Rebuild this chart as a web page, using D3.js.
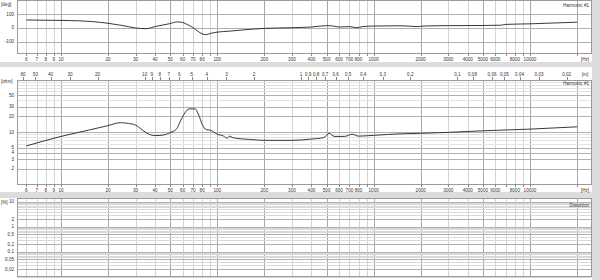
<!DOCTYPE html>
<html>
<head>
<meta charset="utf-8">
<script src="https://cdn.jsdelivr.net/npm/d3@7"></script>
<style>
  body { margin: 0; background: #dcdcdc; }
  svg { display: block; font-family: "Liberation Sans", Arial, sans-serif; }
</style>
</head>
<body>
<svg id="chart" width="600" height="280"></svg>
<script>
// phase of harmonic #1 (deg)
const phaseFreq = [6, 8, 10, 13, 16, 20, 25, 30, 35, 40, 45, 50, 55, 60, 65, 70, 75, 80, 85, 90, 100, 120, 150, 200, 300, 400, 500, 550, 600, 700, 780, 850, 1000, 1500, 1900, 2100, 3000, 5000, 6500, 7000, 10000, 15000, 20000];
const phaseDeg  = [56, 54, 53, 50, 44, 32, 15, -2, -7, 8, 20, 30, 42, 38, 20, 0, -25, -45, -50, -42, -32, -25, -15, -5, 0, 5, 15, 12, 5, 8, 0, 8, 12, 14, 8, 12, 15, 16, 18, 24, 28, 35, 40];

// impedance of harmonic #1 (ohm)
const impFreq = [6, 10, 15, 20, 24, 27, 30, 33, 36, 40, 45, 50, 55, 58, 62, 66, 72, 76, 80, 85, 90, 100, 110, 115, 120, 125, 140, 160, 200, 300, 400, 480, 520, 560, 650, 730, 800, 1000, 1500, 2000, 3000, 5000, 10000, 20000];
const impOhm  = [5.4, 8.2, 10.8, 13.2, 15, 14.5, 13.5, 11, 9.2, 8.5, 8.7, 9.7, 11.5, 16, 23, 27.5, 27.5, 21, 14, 11, 10.8, 9, 8.3, 7.6, 8.3, 7.8, 7.4, 7.2, 6.9, 6.9, 7.3, 7.8, 9.4, 8.2, 8.2, 9, 8.3, 8.6, 9.2, 9.4, 9.8, 10.5, 11.3, 12.5];

// axis labels
const freqLabels = [6, 7, 8, 9, 10, 20, 30, 40, 50, 60, 70, 80, 100, 200, 300, 400, 500, 600, 700, 800, 1000, 2000, 3000, 4000, 5000, 6000, 8000, 10000];
const waveLabels = [60, 50, 40, 30, 20, 10, 9, 8, 7, 6, 5, 4, 3, 2, 1, 0.9, 0.8, 0.7, 0.6, 0.5, 0.4, 0.3, 0.2, 0.1, 0.08, 0.06, 0.05, 0.04, 0.03, 0.02];
const phaseLabels = [100, 0, -100];
const ohmLabels = [50, 30, 20, 10, 5, 4, 3, 2];
const pctLabels = [10, 2, 1, 0.5, 0.2, 0.1, 0.05, 0.02];

const svg = d3.select('#chart');
const fmt = v => String(v).replace('.', ',');
const left = 17, right = 591;

// grid frequencies 6 Hz .. 20 kHz
const gridFreq = [];
[1, 10, 100, 1000, 10000].forEach(dec => {
    for (let m = 1; m <= 9; m++) {
        const f = m * dec;
        if (f >= 6 && f <= 20000) gridFreq.push(f);
    }
});
const isMajor = f => {
    const m = f / Math.pow(10, Math.floor(Math.log10(f) + 1e-9));
    return Math.abs(m - 1) < 1e-6 || Math.abs(m - 2) < 1e-6 || Math.abs(m - 5) < 1e-6;
};

const x = d3.scaleLog().domain([10, 10000]).range([61, 530]);

const panels = [
    { top: 0, bottom: 62, plotTop: 0, plotBottom: 53 },
    { top: 67, bottom: 192, plotTop: 80, plotBottom: 184 },
    { top: 198, bottom: 280, plotTop: 198, plotBottom: 276 }
];

// panel backgrounds
panels.forEach(p => {
    svg.append('rect')
        .attr('x', 0).attr('y', p.top)
        .attr('width', 592).attr('height', p.bottom - p.top)
        .attr('fill', '#fff');
});

function vGrid(p) {
    const g = svg.append('g');
    g.selectAll('line')
        .data(gridFreq)
        .enter()
        .append('line')
        .attr('x1', d => Math.round(x(d)) + 0.5)
        .attr('x2', d => Math.round(x(d)) + 0.5)
        .attr('y1', p.plotTop)
        .attr('y2', p.plotBottom)
        .attr('stroke', d => isMajor(d) ? '#a8a8a8' : '#d4d4d4');
}

function hLines(values, scale, color) {
    svg.append('g').selectAll('line')
        .data(values)
        .enter()
        .append('line')
        .attr('x1', left).attr('x2', right)
        .attr('y1', d => Math.round(scale(d)) + 0.5)
        .attr('y2', d => Math.round(scale(d)) + 0.5)
        .attr('stroke', color);
}

function frame(p) {
    svg.append('rect')
        .attr('x', left + 0.5).attr('y', p.plotTop + 0.5)
        .attr('width', right - left).attr('height', p.plotBottom - p.plotTop)
        .attr('fill', 'none')
        .attr('stroke', '#9a9a9a');
}

function freqAxis(y0) {
    const g = svg.append('g');
    g.selectAll('line')
        .data(gridFreq)
        .enter()
        .append('line')
        .attr('x1', d => Math.round(x(d)) + 0.5)
        .attr('x2', d => Math.round(x(d)) + 0.5)
        .attr('y1', y0).attr('y2', y0 + 3)
        .attr('stroke', '#888');
    g.selectAll('text')
        .data(freqLabels)
        .enter()
        .append('text')
        .attr('x', d => x(d))
        .attr('y', y0 + 7.5)
        .attr('text-anchor', 'middle')
        .attr('font-size', 4.6)
        .attr('fill', '#333')
        .text(d => d);
    g.append('text')
        .attr('x', 585).attr('y', y0 + 7.5)
        .attr('text-anchor', 'middle')
        .attr('font-size', 4.6).attr('fill', '#333')
        .text('[Hz]');
}

function yLabels(values, scale, unit, unitY) {
    const g = svg.append('g');
    g.selectAll('text')
        .data(values)
        .enter()
        .append('text')
        .attr('x', 14)
        .attr('y', d => scale(d) + 1.6)
        .attr('text-anchor', 'end')
        .attr('font-size', 4.6)
        .attr('fill', '#333')
        .text(d => fmt(d));
    g.append('text')
        .attr('x', 1).attr('y', unitY)
        .attr('font-size', 4.6).attr('fill', '#333')
        .text(unit);
}

function corner(text, y) {
    svg.append('text')
        .attr('x', 589).attr('y', y)
        .attr('text-anchor', 'end')
        .attr('font-size', 4.6).attr('fill', '#333')
        .text(text);
}

// ---- panel 1: phase ----
const p1 = panels[0];
const yPhase = d3.scaleLinear().domain([-100, 100]).range([41.5, 13.9]);
vGrid(p1);
hLines(phaseLabels, yPhase, '#b0b0b0');
frame(p1);
freqAxis(p1.plotBottom);
yLabels(phaseLabels, yPhase, '[deg]', 6);
corner('Harmonic #1', 7);

svg.append('path')
    .datum(phaseFreq.map((f, i) => [f, phaseDeg[i]]))
    .attr('fill', 'none')
    .attr('stroke', '#222')
    .attr('stroke-width', 0.9)
    .attr('d', d3.line().x(d => x(d[0])).y(d => yPhase(d[1])).curve(d3.curveMonotoneX));

// ---- panel 2: impedance ----
const p2 = panels[1];
const yOhm = d3.scaleLog().domain([1, 100]).range([184.3, 79.5]);
const ohmMinor = [2, 3, 4, 5, 6, 7, 8, 9, 10, 20, 30, 40, 50, 60, 70, 80, 90];
vGrid(p2);
hLines(ohmMinor.filter(v => !ohmLabels.includes(v)), yOhm, '#e2e2e2');
hLines(ohmLabels, yOhm, '#b0b0b0');
frame(p2);
freqAxis(p2.plotBottom);
yLabels(ohmLabels, yOhm, '[ohm]', 83);
corner('Harmonic #1', 85);

// wavelength axis on top
const topAxis = svg.append('g');
topAxis.selectAll('line')
    .data(waveLabels)
    .enter()
    .append('line')
    .attr('x1', d => Math.round(x(343 / d)) + 0.5)
    .attr('x2', d => Math.round(x(343 / d)) + 0.5)
    .attr('y1', p2.plotTop - 3).attr('y2', p2.plotTop)
    .attr('stroke', '#888');
topAxis.selectAll('text')
    .data(waveLabels)
    .enter()
    .append('text')
    .attr('x', d => x(343 / d))
    .attr('y', p2.plotTop - 4.5)
    .attr('text-anchor', 'middle')
    .attr('font-size', 4.6)
    .attr('fill', '#333')
    .text(d => fmt(d));
topAxis.append('text')
    .attr('x', 585).attr('y', p2.plotTop - 4.5)
    .attr('text-anchor', 'middle')
    .attr('font-size', 4.6).attr('fill', '#333')
    .text('[m]');

svg.append('path')
    .datum(impFreq.map((f, i) => [f, impOhm[i]]))
    .attr('fill', 'none')
    .attr('stroke', '#222')
    .attr('stroke-width', 0.9)
    .attr('d', d3.line().x(d => x(d[0])).y(d => yOhm(d[1])).curve(d3.curveMonotoneX));

// ---- panel 3: distortion (empty) ----
const p3 = panels[2];
const yPct = d3.scaleLog().domain([0.01, 10]).range([276.7, 201.7]);
const pctMinor = [];
[0.01, 0.1, 1].forEach(dec => {
    for (let m = 1; m <= 9; m++) pctMinor.push(m * dec);
});
vGrid(p3);
hLines(pctMinor.filter(v => !pctLabels.includes(+v.toFixed(3))), yPct, '#d8d8d8');
hLines(pctLabels, yPct, '#b0b0b0');
frame(p3);
yLabels(pctLabels, yPct, '[%]', 203.5);
corner('Distortion', 207);
</script>
</body>
</html>
